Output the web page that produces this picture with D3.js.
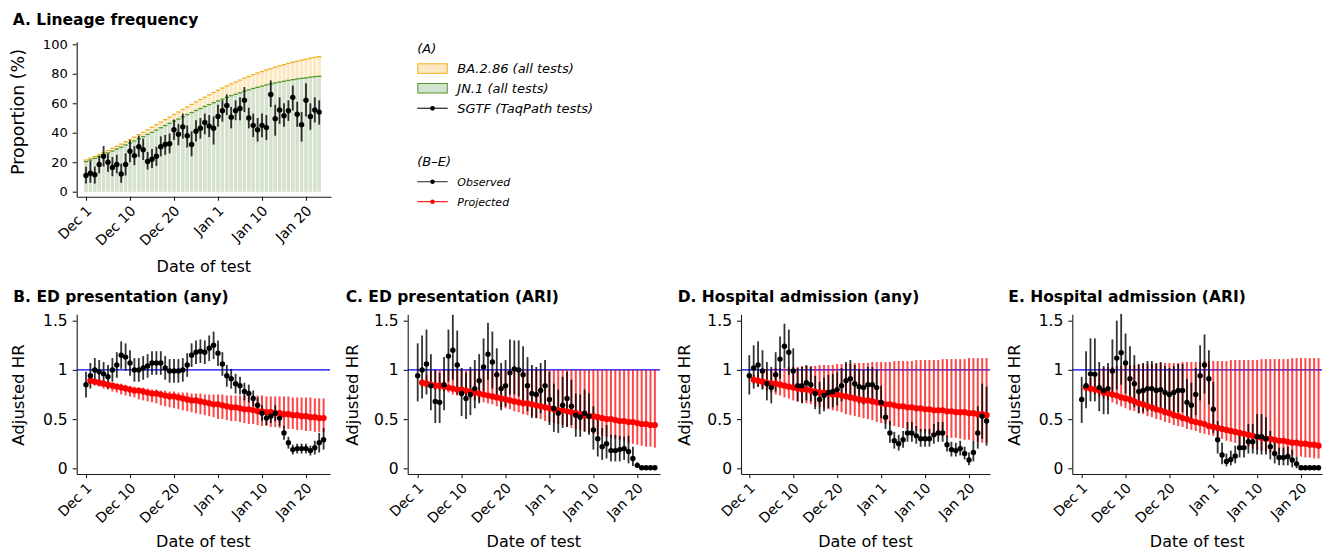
<!DOCTYPE html>
<html><head><meta charset="utf-8">
<script src="https://cdn.jsdelivr.net/npm/d3@7"></script>
<style>
body{margin:0;background:#fff}
svg{display:block}
text{font-family:"DejaVu Sans",sans-serif;fill:#000}
</style></head>
<body><svg id="chart" width="1327" height="551"></svg>
<script>
// ---------- data ----------
const tickDays = [0, 10, 20, 30, 40, 50];
const tickLabels = ["Dec 1", "Dec 10", "Dec 20", "Jan 1", "Jan 10", "Jan 20"];
const yTicksA = [0, 20, 40, 60, 80, 100];
const yTicksHR = [0, 0.5, 1, 1.5];

// Panel A (day index 0 = Dec 1)
const ba286 = [21.5,22.7,23.9,25.2,26.6,27.9,29.4,30.8,32.3,33.9,35.4,37.0,38.7,40.3,42.0,43.7,45.4,47.2,48.9,50.6,52.4,54.1,55.8,57.5,59.2,60.9,62.5,64.1,65.7,67.3,68.8,70.3,71.7,73.1,74.4,75.7,77.0,78.2,79.4,80.5,81.5,82.6,83.5,84.5,85.4,86.2,87.0,87.8,88.5,89.2,89.8,90.5,91.1,91.6];
const jn1 = [20.4,21.5,22.6,23.8,25.1,26.3,27.6,28.9,30.2,31.7,33.0,34.4,36.0,37.4,38.9,40.3,41.8,43.4,44.9,46.4,47.9,49.3,50.8,52.3,53.7,55.1,56.4,57.8,59.1,60.4,61.6,62.8,64.0,65.1,66.1,67.1,68.2,69.1,70.0,70.8,71.6,72.4,73.1,73.8,74.4,74.9,75.5,76.0,76.5,76.9,77.2,77.7,78.1,78.3];
const sgtf = [11,12.5,11.5,18.5,24,20,16.5,18.5,12,18.5,27.5,24.5,30.5,28.5,20.5,22,24,30.5,32,32.5,42,39,44,38,32,41,43,47,44.5,43,51,55,58.5,50.5,55,56.5,62,50,45,42,45,43.5,66,49.5,55.5,51.5,55,64,52.5,45.5,62,51,55.5,54];
const sgtfLo = [5.5,6,5.5,12.5,17,13.5,10.5,12.5,6,11,20,18,23.5,21.5,15,16,17.5,24,25,26,35,31.5,36,30,24,34,36,39,37,32,44,47.5,52,43,48.5,48.5,54,43,37,34,37,35,57.5,38,46,44,48,55,44,34,51,42,47,45.5];
const sgtfHi = [17,21,17,24.5,31,26,23.5,25,19,26,35,31,38,36,27,29,30.5,37.5,38.5,39.5,49,46,53,45,41,48.5,50,53,52,51,59,62,66,57.5,62,64,71,57,53,50,53,52,75.5,59,64,60,62,72,61,54,73.5,60,64,62];

// Panels B-E observed (day 0..54) and projected (day 1..54)
const obsB = [.85,.94,1.0,.98,.96,.93,1.0,1.05,1.15,1.13,1.07,1.0,1.0,1.02,1.04,1.07,1.07,1.07,1.02,.99,.99,.99,1.0,1.05,1.15,1.18,1.19,1.18,1.22,1.25,1.17,1.06,.94,.91,.86,.84,.78,.76,.71,.64,.56,.51,.53,.56,.51,.36,.26,.19,.2,.2,.2,.18,.21,.26,.29];
const obsBLo = [.72,.81,.88,.86,.84,.81,.88,.92,1.01,.99,.94,.88,.88,.90,.92,.95,.95,.95,.90,.87,.87,.87,.88,.93,1.03,1.06,1.07,1.06,1.09,1.11,1.04,.94,.83,.81,.76,.75,.69,.67,.63,.56,.48,.44,.46,.48,.43,.29,.20,.14,.15,.15,.15,.13,.14,.16,.19];
const obsBHi = [.98,1.07,1.12,1.10,1.08,1.05,1.12,1.18,1.29,1.27,1.20,1.12,1.12,1.14,1.16,1.19,1.19,1.19,1.14,1.11,1.11,1.11,1.12,1.17,1.27,1.30,1.31,1.30,1.35,1.39,1.30,1.18,1.05,1.01,.96,.93,.87,.85,.79,.72,.64,.58,.60,.64,.59,.43,.32,.24,.25,.25,.25,.23,.28,.36,.41];
const projB = [.89,.88,.87,.86,.85,.84,.83,.82,.81,.80,.79,.79,.78,.77,.76,.76,.75,.74,.73,.73,.72,.71,.70,.69,.69,.68,.67,.66,.65,.65,.64,.63,.62,.62,.61,.60,.60,.59,.58,.58,.57,.57,.56,.56,.55,.55,.54,.54,.53,.53,.52,.52,.51,.51];
const projBLo = [.86,.84,.83,.81,.80,.78,.77,.75,.74,.73,.72,.70,.69,.68,.67,.66,.64,.63,.62,.61,.60,.59,.58,.57,.56,.55,.54,.53,.52,.50,.50,.49,.48,.48,.47,.46,.45,.45,.44,.43,.43,.42,.42,.41,.41,.40,.40,.39,.39,.38,.38,.37,.37,.37];
const projBHi = [.92,.91,.90,.89,.88,.87,.86,.86,.85,.84,.83,.82,.82,.81,.80,.80,.79,.79,.78,.78,.77,.77,.77,.76,.76,.76,.75,.75,.75,.75,.75,.74,.74,.74,.74,.74,.74,.74,.74,.74,.73,.73,.73,.73,.73,.73,.72,.72,.72,.72,.72,.71,.71,.71];

const obsC = [.94,1.0,1.06,.84,.68,.67,.85,1.14,1.2,1.05,.76,.71,.75,.81,.89,1.03,1.16,1.08,.95,.81,.84,.97,1.01,1.0,.95,.84,.76,.75,.79,.84,.70,.61,.56,.64,.71,.63,.54,.52,.56,.53,.39,.30,.22,.25,.18,.18,.19,.20,.17,.10,.03,.005,.005,.005,.005];
const obsCLo = [.68,.71,.75,.59,.46,.46,.59,.88,.90,.75,.53,.50,.54,.61,.66,.78,.90,.81,.71,.59,.63,.75,.75,.73,.68,.58,.51,.51,.56,.59,.44,.37,.36,.41,.42,.44,.32,.32,.37,.34,.19,.12,.085,.10,.07,.07,.07,.085,.05,.024,.005,0,0,0,0];
const obsCHi = [1.27,1.35,1.41,1.16,1.0,.97,1.13,1.41,1.56,1.40,1.02,.97,1.03,1.10,1.16,1.32,1.48,1.39,1.22,1.07,1.10,1.31,1.30,1.30,1.24,1.13,1.05,1.03,1.07,1.10,.98,.86,.80,.93,.98,.90,.76,.75,.80,.76,.63,.51,.41,.44,.34,.34,.33,.32,.33,.22,.06,.01,.01,.01,.01];
const projC = [.87,.86,.85,.84,.84,.83,.82,.81,.80,.80,.79,.78,.77,.76,.75,.74,.73,.72,.71,.70,.69,.68,.67,.66,.66,.65,.64,.63,.62,.61,.60,.59,.59,.58,.57,.56,.55,.54,.53,.53,.52,.51,.50,.50,.49,.48,.48,.47,.47,.46,.45,.45,.44,.44];
const projCLo = [.83,.82,.81,.80,.79,.78,.77,.75,.74,.73,.72,.71,.69,.68,.67,.66,.65,.63,.62,.61,.60,.58,.57,.55,.54,.53,.51,.50,.48,.47,.46,.45,.44,.42,.41,.40,.39,.38,.36,.35,.34,.33,.32,.31,.30,.29,.28,.26,.25,.24,.23,.22,.22,.21];
const projCHi = [.90,.95,.99,1,1,1,1,1,1,1,1,1,1,1,1,1,1,1,1,1,1,1,1,1,1,1,1,1,1,1,1,1,1,1,1,1,1,1,1,1,1,1,1,1,1,1,1,1,1,1,1,1,1,1];

const obsD = [.94,1.02,1.05,.99,.86,.82,.95,1.11,1.24,1.18,.99,.84,.84,.87,.85,.76,.70,.74,.77,.78,.80,.84,.89,.91,.86,.83,.82,.85,.85,.82,.67,.52,.36,.28,.25,.29,.36,.36,.33,.30,.30,.30,.34,.36,.36,.24,.19,.18,.20,.15,.085,.16,.36,.53,.48];
const obsDLo = [.75,.81,.83,.80,.69,.66,.78,.91,1.02,.95,.81,.68,.66,.69,.68,.60,.55,.58,.61,.62,.64,.68,.72,.71,.69,.66,.65,.68,.68,.65,.51,.40,.26,.20,.18,.21,.27,.27,.25,.22,.22,.22,.25,.27,.27,.17,.12,.12,.13,.09,.03,.07,.20,.30,.23];
const obsDHi = [1.15,1.25,1.29,1.20,1.08,1.03,1.18,1.34,1.47,1.41,1.22,1.02,1.03,1.05,1.03,.94,.88,.92,.95,.96,.98,1.02,1.08,1.10,1.05,1.01,1.0,1.03,1.03,1.0,.84,.66,.48,.37,.34,.38,.47,.47,.43,.40,.40,.40,.45,.47,.47,.33,.27,.26,.28,.22,.16,.28,.63,.86,.83];
const projD = [.90,.89,.88,.87,.86,.86,.85,.84,.83,.82,.81,.80,.80,.79,.78,.77,.77,.76,.75,.75,.74,.73,.72,.71,.70,.69,.69,.68,.67,.66,.65,.65,.64,.63,.63,.62,.62,.61,.61,.60,.60,.59,.59,.59,.58,.58,.57,.57,.57,.56,.56,.55,.55,.54];
const projDLo = [.86,.83,.81,.79,.77,.75,.74,.72,.71,.69,.68,.67,.66,.65,.63,.62,.61,.60,.59,.58,.57,.55,.54,.53,.52,.51,.50,.49,.47,.46,.45,.44,.43,.42,.41,.40,.39,.38,.37,.36,.35,.34,.34,.33,.32,.31,.31,.30,.29,.29,.28,.27,.26,.26];
const projDHi = [.95,.98,1.00,1.01,1.01,1.02,1.02,1.02,1.03,1.03,1.03,1.04,1.04,1.04,1.04,1.05,1.05,1.05,1.05,1.06,1.06,1.06,1.06,1.07,1.07,1.07,1.07,1.08,1.08,1.08,1.08,1.08,1.09,1.09,1.09,1.09,1.09,1.10,1.10,1.10,1.10,1.10,1.10,1.11,1.11,1.11,1.11,1.11,1.11,1.12,1.12,1.12,1.12,1.12];

const obsE = [.70,.84,.96,.955,.82,.79,.81,.99,1.12,1.175,1.07,.91,.86,.78,.79,.81,.81,.79,.80,.77,.75,.77,.79,.79,.67,.64,.75,.94,1.05,.91,.60,.29,.135,.07,.09,.125,.21,.21,.27,.27,.32,.32,.30,.22,.15,.11,.11,.12,.085,.045,.005,.005,.005,.005,.005];
const obsELo = [.46,.61,.68,.68,.58,.55,.55,.72,.80,.85,.76,.66,.62,.56,.57,.58,.58,.57,.58,.55,.54,.55,.57,.57,.47,.45,.54,.69,.76,.65,.36,.15,.04,.02,.03,.05,.11,.11,.15,.15,.14,.14,.14,.09,.05,.03,.03,.03,.01,0,0,0,0,0,0];
const obsEHi = [.93,1.19,1.32,1.32,1.08,1.04,1.07,1.31,1.50,1.57,1.37,1.24,1.15,1.06,1.07,1.09,1.09,1.07,1.08,1.04,1.02,1.04,1.06,1.06,.91,.87,1.02,1.25,1.36,1.20,.88,.48,.26,.15,.18,.23,.36,.36,.45,.45,.55,.55,.52,.38,.28,.21,.21,.22,.19,.12,.01,.01,.01,.01,.01];
const projE = [.82,.81,.80,.79,.77,.76,.75,.74,.72,.71,.70,.68,.66,.65,.63,.62,.60,.59,.57,.56,.54,.53,.51,.50,.48,.47,.46,.45,.43,.42,.41,.40,.39,.38,.37,.36,.35,.34,.33,.32,.31,.30,.30,.29,.28,.28,.27,.26,.26,.25,.25,.24,.24,.23];
const projELo = [.79,.77,.75,.73,.71,.69,.67,.65,.63,.61,.59,.58,.56,.55,.53,.52,.50,.49,.47,.46,.44,.43,.42,.40,.39,.38,.36,.35,.34,.33,.31,.30,.28,.27,.26,.24,.23,.22,.20,.19,.18,.17,.16,.15,.15,.14,.13,.13,.12,.12,.11,.11,.10,.10];
const projEHi = [.87,.92,.97,1.00,1.02,1.03,1.03,1.04,1.04,1.05,1.05,1.05,1.05,1.06,1.06,1.06,1.06,1.07,1.07,1.07,1.07,1.07,1.08,1.08,1.08,1.08,1.08,1.09,1.09,1.09,1.09,1.09,1.09,1.10,1.10,1.10,1.10,1.10,1.10,1.10,1.11,1.11,1.11,1.11,1.11,1.11,1.11,1.12,1.12,1.12,1.12,1.12,1.12,1.12];

// ---------- drawing ----------
const svg = d3.select("#chart");
const C = {ink:"#000", axis:"#1a1a1a", baFill:"#FCE9C4", baLine:"#F2AE1C", jnFill:"#D3E2D1", jnLine:"#4E9A2A", red:"#FF0000", blue:"#0000FF"};

function makeX(p){
  const k = (p.jan20 - p.dec1) / 50;
  return d3.scaleLinear().domain([(p.left - p.dec1)/k, (p.right - p.dec1)/k]).range([p.left, p.right]);
}
function drawXAxis(g, x, axisY){
  const ax = g.append("g").attr("transform", `translate(0,${axisY})`)
    .call(d3.axisBottom(x).tickValues(tickDays).tickFormat((d,i)=>tickLabels[i]).tickSize(4).tickSizeOuter(0));
  ax.select(".domain").attr("stroke", C.axis).attr("stroke-width", 1.1);
  ax.selectAll(".tick line").attr("stroke", C.axis).attr("stroke-width", 1.1);
  ax.selectAll(".tick text").attr("x",0).attr("y",0).attr("dy",0)
    .attr("text-anchor","end").attr("transform","translate(6,15) rotate(-45)")
    .style("font-size","14px").style("font-family",'"DejaVu Sans",sans-serif').attr("fill","#000");
}
function drawYAxis(g, y, axisX, ticks, fs){
  const ax = g.append("g").attr("transform", `translate(${axisX},0)`)
    .call(d3.axisLeft(y).tickValues(ticks).tickFormat(d3.format("")).tickSize(4).tickSizeOuter(0).tickPadding(5));
  ax.select(".domain").attr("stroke", C.axis).attr("stroke-width", 1.1);
  ax.selectAll(".tick line").attr("stroke", C.axis).attr("stroke-width", 1.1);
  ax.selectAll(".tick text").style("font-size", fs+"px").style("font-family",'"DejaVu Sans",sans-serif').attr("fill","#000");
}

// ----- Panel A -----
{
  const p = {left:76.7, right:331, dec1:86, jan20:306};
  const x = makeX(p);
  const y = d3.scaleLinear().domain([(191.7-196.7)/1.474, (191.7-41.7)/1.474]).range([196.7, 41.7]);
  const g = svg.append("g");
  const days = d3.range(ba286.length);
  const hw = (x(1)-x(0))/2;
  g.append("g").selectAll("rect").data(days).join("rect")
    .attr("x", d=>x(d)-hw+0.5).attr("width", 2*hw-1)
    .attr("y", d=>y(ba286[d])).attr("height", d=>y(0)-y(ba286[d])).attr("fill", C.baFill);
  g.append("g").selectAll("rect").data(days).join("rect")
    .attr("x", d=>x(d)-hw+0.5).attr("width", 2*hw-1)
    .attr("y", d=>y(jn1[d])).attr("height", d=>y(0)-y(jn1[d])).attr("fill", C.jnFill);
  g.append("g").selectAll("line").data(days).join("line")
    .attr("x1", d=>x(d)-hw).attr("x2", d=>x(d)+hw)
    .attr("y1", d=>y(ba286[d])).attr("y2", d=>y(ba286[d])).attr("stroke", C.baLine).attr("stroke-width",1.3);
  g.append("g").selectAll("line").data(days).join("line")
    .attr("x1", d=>x(d)-hw).attr("x2", d=>x(d)+hw)
    .attr("y1", d=>y(jn1[d])).attr("y2", d=>y(jn1[d])).attr("stroke", C.jnLine).attr("stroke-width",1.3);
  g.append("g").selectAll("line").data(days).join("line")
    .attr("x1", d=>x(d)).attr("x2", d=>x(d))
    .attr("y1", d=>y(sgtfLo[d])).attr("y2", d=>y(sgtfHi[d]))
    .attr("stroke", "#000").attr("stroke-opacity", 0.8).attr("stroke-width", 1.8);
  g.append("g").selectAll("circle").data(days).join("circle")
    .attr("cx", d=>x(d)).attr("cy", d=>y(sgtf[d])).attr("r", 2.7).attr("fill", "#000");
  drawXAxis(g, x, 196.7);
  drawYAxis(g, y, p.left, yTicksA, 13);
  g.append("text").attr("x", 12.7).attr("y", 25.3).style("font-size","15.5px").style("font-weight","bold").text("A. Lineage frequency");
  g.append("text").attr("transform","translate(24,112) rotate(-90)").attr("text-anchor","middle").style("font-size","17.5px").text("Proportion (%)");
  g.append("text").attr("x", (p.left+p.right)/2).attr("y", 272).attr("text-anchor","middle").style("font-size","16px").text("Date of test");
}

// ----- Panels B-E -----
const hrPanels = [
  {title:"B. ED presentation (any)", tx:13.3, left:76.7, right:330, dec1:86, jan20:306, ytOff:52.4,
   obs:obsB, lo:obsBLo, hi:obsBHi, pr:projB, plo:projBLo, phi:projBHi},
  {title:"C. ED presentation (ARI)", tx:345.7, left:407.7, right:660, dec1:417.7, jan20:637.3, ytOff:50,
   obs:obsC, lo:obsCLo, hi:obsCHi, pr:projC, plo:projCLo, phi:projCHi},
  {title:"D. Hospital admission (any)", tx:677.7, left:741, right:990, dec1:749.3, jan20:969, ytOff:51.5,
   obs:obsD, lo:obsDLo, hi:obsDHi, pr:projD, plo:projDLo, phi:projDHi},
  {title:"E. Hospital admission (ARI)", tx:1008.3, left:1072.3, right:1322, dec1:1081.7, jan20:1301, ytOff:52.8,
   obs:obsE, lo:obsELo, hi:obsEHi, pr:projE, plo:projELo, phi:projEHi}
];
hrPanels.forEach(p=>{
  const x = makeX(p);
  const y = d3.scaleLinear().domain([(468.3-474)/98.4, (468.3-314.3)/98.4]).range([474, 314.3]);
  const g = svg.append("g");
  g.append("line").attr("x1", p.left).attr("x2", p.right).attr("y1", y(1)).attr("y2", y(1))
    .attr("stroke", C.blue).attr("stroke-width", 1.1);
  const od = d3.range(p.obs.length);
  const pd = d3.range(p.pr.length);
  // projected CIs
  g.append("g").selectAll("line").data(pd).join("line")
    .attr("x1", d=>x(d+1)).attr("x2", d=>x(d+1))
    .attr("y1", d=>y(p.plo[d])).attr("y2", d=>y(p.phi[d]))
    .attr("stroke", C.red).attr("stroke-opacity", 0.72).attr("stroke-width", 2);
  // observed CIs
  g.append("g").selectAll("line").data(od).join("line")
    .attr("x1", d=>x(d)).attr("x2", d=>x(d))
    .attr("y1", d=>y(p.lo[d])).attr("y2", d=>y(p.hi[d]))
    .attr("stroke", "#000").attr("stroke-opacity", 0.8).attr("stroke-width", 1.8);
  // projected points
  g.append("g").selectAll("circle").data(pd).join("circle")
    .attr("cx", d=>x(d+1)).attr("cy", d=>y(p.pr[d])).attr("r", 3.1).attr("fill", C.red);
  // observed points
  g.append("g").selectAll("circle").data(od).join("circle")
    .attr("cx", d=>x(d)).attr("cy", d=>y(p.obs[d])).attr("r", 2.7).attr("fill", "#000");
  drawXAxis(g, x, 474);
  drawYAxis(g, y, p.left, yTicksHR, 15.5);
  g.append("text").attr("x", p.tx).attr("y", 302).style("font-size","15.5px").style("font-weight","bold").text(p.title);
  g.append("text").attr("transform",`translate(${p.left - p.ytOff},395) rotate(-90)`).attr("text-anchor","middle").style("font-size","16.5px").text("Adjusted HR");
  g.append("text").attr("x", (p.left+p.right)/2).attr("y", 547).attr("text-anchor","middle").style("font-size","16px").text("Date of test");
});

// ----- Legend -----
{
  const g = svg.append("g");
  const lx = 417.3, tx = 457.3;
  g.append("text").attr("x", lx).attr("y", 52.7).style("font-size","13px").style("font-style","italic").text("(A)");
  g.append("rect").attr("x", lx+0.5).attr("y", 63.8).attr("width", 29.5).attr("height", 9.5).attr("fill", C.baFill).attr("stroke", C.baLine).attr("stroke-width",1);
  g.append("text").attr("x", tx).attr("y", 73).style("font-size","13px").style("font-style","italic").text("BA.2.86 (all tests)");
  g.append("rect").attr("x", lx+0.5).attr("y", 83.5).attr("width", 29.5).attr("height", 9.5).attr("fill", C.jnFill).attr("stroke", C.jnLine).attr("stroke-width",1);
  g.append("text").attr("x", tx).attr("y", 92.7).style("font-size","13px").style("font-style","italic").text("JN.1 (all tests)");
  g.append("line").attr("x1", lx).attr("x2", lx+30.4).attr("y1", 108.3).attr("y2", 108.3).attr("stroke","#333").attr("stroke-width",1.3);
  g.append("circle").attr("cx", lx+15.2).attr("cy", 108.3).attr("r", 2.4).attr("fill","#000");
  g.append("text").attr("x", tx).attr("y", 112.8).style("font-size","13px").style("font-style","italic").text("SGTF (TaqPath tests)");
  g.append("text").attr("x", lx).attr("y", 166).style("font-size","13px").style("font-style","italic").text("(B\u2013E)");
  g.append("line").attr("x1", lx).attr("x2", lx+30.4).attr("y1", 181.7).attr("y2", 181.7).attr("stroke","#333").attr("stroke-width",1.1);
  g.append("circle").attr("cx", lx+15.2).attr("cy", 181.7).attr("r", 2.2).attr("fill","#000");
  g.append("text").attr("x", tx).attr("y", 185.6).style("font-size","11px").style("font-style","italic").text("Observed");
  g.append("line").attr("x1", lx).attr("x2", lx+30.4).attr("y1", 201.7).attr("y2", 201.7).attr("stroke",C.red).attr("stroke-width",1.1);
  g.append("circle").attr("cx", lx+15.2).attr("cy", 201.7).attr("r", 2.2).attr("fill",C.red);
  g.append("text").attr("x", tx).attr("y", 205.6).style("font-size","11px").style("font-style","italic").text("Projected");
}
</script>
</body></html>
